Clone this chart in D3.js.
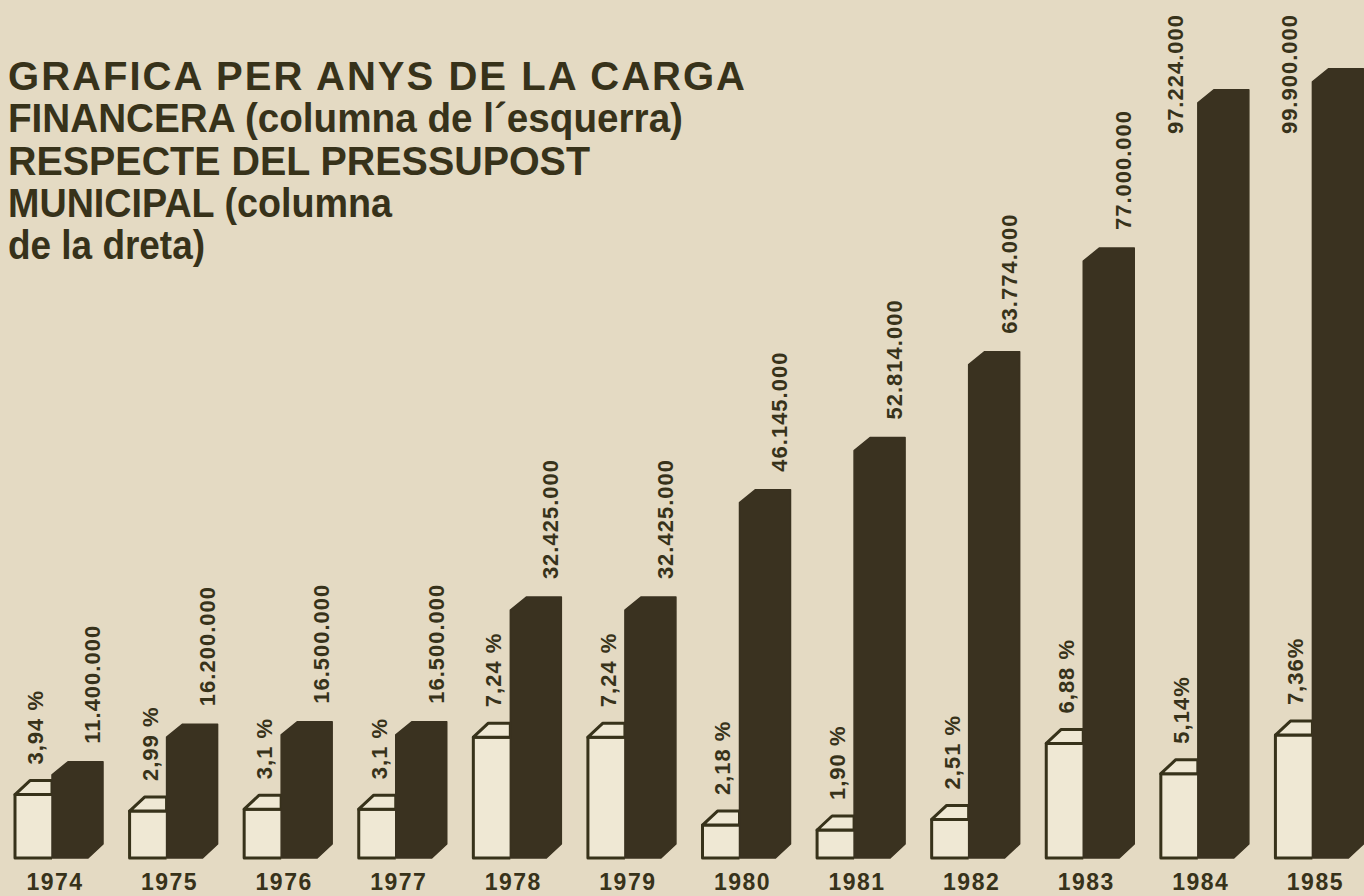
<!DOCTYPE html>
<html>
<head>
<meta charset="utf-8">
<script src="https://cdn.jsdelivr.net/npm/d3@7"></script>
<style>
  html, body { margin: 0; padding: 0; background: #e4dac3; }
  #chart { width: 1364px; height: 896px; }
  text { font-family: "Liberation Sans", Arial, Helvetica, sans-serif; font-weight: bold; }
</style>
</head>
<body>
<div id="chart"></div>
<script>
const width = 1364;
const height = 896;

// years (one group per year)
const years = ["1974", "1975", "1976", "1977", "1978", "1979", "1980", "1981", "1982", "1983", "1984", "1985"];

// carga financera, % of budget (left, white column)
const carga = [3.94, 2.99, 3.1, 3.1, 7.24, 7.24, 2.18, 1.90, 2.51, 6.88, 5.14, 7.36];
const cargaLabels = ["3,94 %", "2,99 %", "3,1 %", "3,1 %", "7,24 %", "7,24 %", "2,18 %", "1,90 %", "2,51 %", "6,88 %", "5,14%", "7,36%"];

// pressupost municipal (right, dark column)
const pressupost = [11400000, 16200000, 16500000, 16500000, 32425000, 32425000, 46145000, 52814000, 63774000, 77000000, 97224000, 99900000];

// title lines and the width each one takes in the print
const titleLines = [
  "GRAFICA PER ANYS DE LA CARGA",
  "FINANCERA (columna de l\u00B4esquerra)",
  "RESPECTE DEL PRESSUPOST",
  "MUNICIPAL (columna",
  "de la dreta)"
];
const titleWidths = [737, 675, 582, 384, 197];

const ink = "#37321a";
const barColor = "#3a3220";
const boxFill = "#efe8d4";

const data = years.map((y, i) => ({ year: y, pct: carga[i], pctLabel: cargaLabels[i], value: pressupost[i] }));

// number format with dots as thousands separator
const locale = d3.formatLocale({ decimal: ",", thousands: ".", grouping: [3], currency: ["", ""] });
const fmt = locale.format(",");

const svg = d3.select("#chart")
  .append("svg")
  .attr("width", width)
  .attr("height", height);

// scales
const x = d3.scaleBand().domain(years).range([15, 1390]);
const yVal = d3.scaleLinear().domain([0, 100000000]).range([851, 68]);
const yPct = d3.scaleLinear().domain([0, 8]).range([863, 724]);
const base = 858;

const boxW = 37;   // white column width
const barW = 51;   // dark column width
const dx = 15, dy = 14; // fake 3D depth

// title: stretch by spacing when too short, squeeze glyphs when too long
svg.append("g")
  .selectAll("text")
  .data(titleLines)
  .join("text")
  .attr("x", 8)
  .attr("y", (d, i) => 90 + i * 42.3)
  .attr("font-size", 40)
  .attr("fill", ink)
  .text(d => d)
  .each(function (d, i) {
    const natural = this.getComputedTextLength();
    d3.select(this)
      .attr("textLength", titleWidths[i])
      .attr("lengthAdjust", natural > titleWidths[i] ? "spacingAndGlyphs" : "spacing");
  });

const groups = svg.append("g")
  .selectAll("g")
  .data(data)
  .join("g");

// white box, front face
groups.append("path")
  .attr("d", d => {
    const x0 = x(d.year), t = yPct(d.pct);
    return `M${x0 + boxW},${t}H${x0}V${base}H${x0 + boxW}`;
  })
  .attr("fill", boxFill)
  .attr("stroke", ink)
  .attr("stroke-width", 3)
  .attr("stroke-linejoin", "round");

// white box, top face
groups.append("path")
  .attr("d", d => {
    const x0 = x(d.year), t = yPct(d.pct);
    return `M${x0},${t}L${x0 + dx},${t - dy}H${x0 + boxW}V${t}Z`;
  })
  .attr("fill", boxFill)
  .attr("stroke", ink)
  .attr("stroke-width", 3)
  .attr("stroke-linejoin", "round");

// dark column
groups.append("path")
  .attr("d", d => {
    const xl = x(d.year) + boxW, xr = xl + barW, t = yVal(d.value);
    return `M${xl},${t + 13}L${xl + 16},${t}H${xr}V${base - 14}L${xr - 15},${base}H${xl}Z`;
  })
  .attr("fill", barColor)
  .attr("stroke", barColor)
  .attr("stroke-width", 1.5)
  .attr("stroke-linejoin", "round");

// % labels above the white box
groups.append("text")
  .attr("transform", d => `translate(${x(d.year) + 20},${yPct(d.pct) - dy - 16}) rotate(-90)`)
  .attr("dy", "0.36em")
  .attr("font-size", 22)
  .attr("letter-spacing", 1)
  .attr("fill", ink)
  .text(d => d.pctLabel);

// value labels above the dark column, or beside it when there is no room
groups.append("text")
  .attr("dy", "0.36em")
  .attr("font-size", 22)
  .attr("letter-spacing", 1)
  .attr("fill", ink)
  .text(d => fmt(d.value))
  .each(function (d) {
    const len = this.getComputedTextLength();
    const xr = x(d.year) + boxW + barW;
    const t = yVal(d.value);
    const txt = d3.select(this);
    if (t - 18 - len < 8) {
      txt.attr("text-anchor", "end")
        .attr("transform", `translate(${x(d.year) + 14},14) rotate(-90)`);
    } else {
      txt.attr("text-anchor", "start")
        .attr("transform", `translate(${xr - 11},${t - 18}) rotate(-90)`);
    }
  });

// year labels
groups.append("text")
  .attr("x", d => x(d.year) + 40)
  .attr("y", 890)
  .attr("text-anchor", "middle")
  .attr("font-size", 23)
  .attr("letter-spacing", 1.5)
  .attr("fill", ink)
  .text(d => d.year);
</script>
</body>
</html>
